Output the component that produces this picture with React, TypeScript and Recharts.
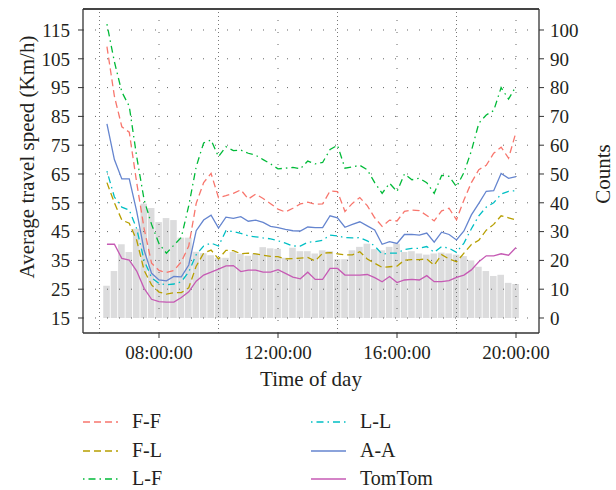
import { ComposedChart, Bar, Line, XAxis, YAxis, ReferenceLine, Label } from 'recharts';

// 15-minute slots
const TIMES = [
  '06:15', '06:30', '06:45',
  '07:00', '07:15', '07:30', '07:45',
  '08:00', '08:15', '08:30', '08:45',
  '09:00', '09:15', '09:30', '09:45',
  '10:00', '10:15', '10:30', '10:45',
  '11:00', '11:15', '11:30', '11:45',
  '12:00', '12:15', '12:30', '12:45',
  '13:00', '13:15', '13:30', '13:45',
  '14:00', '14:15', '14:30', '14:45',
  '15:00', '15:15', '15:30', '15:45',
  '16:00', '16:15', '16:30', '16:45',
  '17:00', '17:15', '17:30', '17:45',
  '18:00', '18:15', '18:30', '18:45',
  '19:00', '19:15', '19:30', '19:45',
  '20:00',
];

const COUNTS = [
  11.2, 16.3, 25.6, 22.9, 31, 39.7, 38.2, 33.3, 34.7, 34,
  27.9, 27.9, 23, 22.5, 21.8, 20.9, 20.9, 22.9, 22.3, 21.6,
  22.4, 24.6, 24.2, 24, 20.9, 24.4, 23.2, 23.2, 22.4, 23.5,
  23.2, 20.4, 20.4, 23.5, 24.7, 25.8, 23.9, 23.5, 24.7, 25.8,
  22.9, 23.2, 22.4, 22, 22.4, 22.7, 22.4, 22, 21.5, 20,
  17.8, 16.3, 14.6, 15, 12.2, 11.8,
];

const F_F = [
  109.2, 92, 81.4, 79.5, 62, 46, 34, 31.5, 30.8, 31.5,
  34.5, 40, 54.8, 62, 65.2, 56.8, 57.5, 58.3, 59.5, 56.3,
  58, 56.5, 54.7, 52.8, 51.8, 53.1, 54.6, 55.2, 54.5, 54.6,
  59.1, 58.9, 52, 54.8, 56.8, 54, 49.8, 46.8, 49, 48.7,
  52, 52.5, 52.3, 50.6, 48.7, 52.2, 53.1, 49.1, 56, 62,
  66.5, 68, 72.2, 74.3, 70.5, 79.5,
];

const F_L = [
  62, 55, 49, 47.9, 42, 31.5, 26.5, 24, 23.3, 23.8,
  23.8, 25.5, 33, 37.5, 38.6, 35.5, 38.5, 38.4, 37.3, 37.5,
  37.3, 36.8, 36.4, 36.3, 35.5, 35.6, 35.8, 36, 34.8, 37.5,
  37.7, 37.3, 36.9, 36.9, 38, 35.5, 34, 32.6, 32.8, 33,
  35.1, 35.3, 35.3, 35.5, 33.3, 37, 35.5, 34.5, 37.5, 40.5,
  42, 45.5, 47.5, 50.5, 49.8, 49,
];

const L_F = [
  117, 104, 93.5, 88.5, 71, 56, 47.5, 40.8, 37.5, 40.3,
  43, 54, 67.5, 75.8, 76.8, 71, 74.5, 73.1, 73.3, 72.2,
  71.5, 70, 68.5, 66.8, 67, 67.3, 66.8, 69.5, 68.5, 69,
  73.5, 75, 67, 67.5, 68, 66.5, 62, 58.3, 61.8, 58.9,
  65, 63, 63.5, 62, 58.3, 64.5, 64.2, 60.6, 65.5, 73,
  82.6, 85.5, 87, 95, 91, 95.5,
];

const L_L = [
  66, 57, 53.5, 52.5, 46, 35, 29, 27, 26.5, 26.8,
  27.6, 31, 37, 40, 41, 40, 45.3, 45, 44.4, 43.5,
  43.2, 42.8, 42.5, 41.8, 41, 40, 40, 41.3, 41.5, 42,
  43.8, 43.5, 42.9, 42.8, 42.9, 41.8, 40, 37.2, 37.5, 37.5,
  38.8, 39.2, 39.2, 39.8, 37.8, 39.8, 39.2, 37.8, 41, 46,
  50.5, 53.5, 55, 58, 59, 59.2,
];

const A_A = [
  82.4, 70, 63.3, 63.3, 52, 38.5, 30.5, 28.2, 27.9, 29.4,
  29.3, 33.4, 45.3, 49, 50.7, 46.2, 50, 49.6, 50.2, 48.6,
  49, 48.2, 46.8, 46.4, 45.8, 45.3, 45.2, 46.6, 46.4, 46.4,
  50.5, 49.8, 46.5, 47.5, 48.4, 47, 45.6, 40.6, 41.5, 40.9,
  44, 44, 43.8, 44.5, 41.3, 44.8, 44, 42.1, 45.2, 50.8,
  54.8, 59, 59.2, 65.2, 63.5, 64.1,
];

const TOMTOM = [
  40.6, 40.6, 35.7, 35.1, 31.3, 25.3, 21.5, 20.7, 20.5, 20.5,
  22.1, 24.1, 27.8, 29.9, 30.9, 32, 33.1, 33.2, 31.1, 31.6,
  31.6, 30.9, 30.9, 31.8, 30.5, 29.2, 28.6, 30.9, 28.4, 28.4,
  32.2, 32.2, 29.9, 29.9, 29.9, 30.1, 29, 27.6, 29.4, 27.3,
  28.2, 28.4, 28.2, 29.7, 27.6, 27.6, 28, 29.1, 29.9, 31.7,
  34.5, 36.6, 36.6, 37.3, 36.8, 39.5,
];

const X_TICKS = [8, 12, 16, 20];
const X_TICK_LABELS = ['08:00:00', '12:00:00', '16:00:00', '20:00:00'];
const X_MINOR = [6, 10, 14, 18];
const SPEED_TICKS = [15, 25, 35, 45, 55, 65, 75, 85, 95, 105, 115];
const COUNT_TICKS = [0, 10, 20, 30, 40, 50, 60, 70, 80, 90, 100];

const SERIES = [
  { key: 'ff', name: 'F-F', values: F_F, color: '#F8766D', dash: '7 4' },
  { key: 'fl', name: 'F-L', values: F_L, color: '#B79F00', dash: '7 4' },
  { key: 'lf', name: 'L-F', values: L_F, color: '#00BA38', dash: '1.5 4 7 4' },
  { key: 'll', name: 'L-L', values: L_L, color: '#00BFC4', dash: '1.5 4 7 4' },
  { key: 'aa', name: 'A-A', values: A_A, color: '#6585CF', dash: undefined },
  { key: 'tt', name: 'TomTom', values: TOMTOM, color: '#C65AB4', dash: undefined },
];

const FONT = '"Liberation Serif", "Times New Roman", serif';
const INK = '#231f20';

const data = TIMES.map((t, i) => {
  const [h, m] = t.split(':').map(Number);
  const row: Record<string, number> = { hour: h + m / 60, counts: COUNTS[i] };
  SERIES.forEach((s) => {
    row[s.key] = s.values[i];
  });
  return row;
});

const tickStyle = { fontSize: 19, fill: INK, fontFamily: FONT };

const LegendBlock = () => {
  const rowY = [422, 451, 479];
  return (
    <>
      {SERIES.map((s, i) => {
        const col = i < 3 ? 0 : 1;
        const top = rowY[i % 3];
        const sx = col === 0 ? 83 : 311;
        const tx = col === 0 ? 132 : 360;
        return (
          <div key={s.key}>
            <svg
              width={36}
              height={4}
              style={{ position: 'absolute', left: sx, top: top - 2 }}
            >
              <line x1={0} y1={2} x2={35} y2={2} stroke={s.color} strokeWidth={1.3} strokeDasharray={s.dash} />
            </svg>
            <div
              style={{
                position: 'absolute',
                left: tx,
                top: top - 13,
                height: 24,
                lineHeight: '24px',
                fontSize: 20,
                fontFamily: FONT,
                color: INK,
                whiteSpace: 'nowrap',
              }}
            >
              {s.name}
            </div>
          </div>
        );
      })}
    </>
  );
};

export default function App() {
  return (
    <div style={{ position: 'absolute', left: 0, top: 0, width: 616, height: 490, background: '#fff' }}>
      <ComposedChart
        width={616}
        height={400}
        data={data}
        margin={{ top: 9, right: 0, bottom: 7, left: 0 }}
      >
        <XAxis
          dataKey="hour"
          type="number"
          domain={[5.445, 20.773]}
          allowDataOverflow
          ticks={X_TICKS}
          tickFormatter={(v: number) => X_TICK_LABELS[X_TICKS.indexOf(v)]}
          height={60}
          tick={tickStyle}
          tickSize={5}
          tickMargin={8}
          axisLine={{ stroke: '#333', strokeWidth: 1.3 }}
          tickLine={{ stroke: '#333' }}
        >
          <Label
            content={() => (
              <text x={311} y={386} textAnchor="middle" fontSize={21} fontFamily={FONT} fill={INK}>
                Time of day
              </text>
            )}
          />
        </XAxis>
        <YAxis
          yAxisId="left"
          domain={[9.79, 122.29]}
          allowDataOverflow
          ticks={SPEED_TICKS}
          width={83}
          tick={tickStyle}
          tickSize={5}
          tickMargin={8}
          axisLine={{ stroke: '#333', strokeWidth: 1.3 }}
          tickLine={{ stroke: '#333' }}
        >
          <Label
            content={() => (
              <text
                x={34}
                y={157}
                textAnchor="middle"
                fontSize={21}
                fontFamily={FONT}
                fill={INK}
                transform="rotate(-90 34 157)"
              >
                Average travel speed (Km/h)
              </text>
            )}
          />
        </YAxis>
        <YAxis
          yAxisId="right"
          orientation="right"
          domain={[-5.21, 107.29]}
          allowDataOverflow
          ticks={COUNT_TICKS}
          width={77}
          tick={tickStyle}
          tickSize={5}
          tickMargin={6}
          axisLine={{ stroke: '#333', strokeWidth: 1.3 }}
          tickLine={{ stroke: '#333' }}
        >
          <Label
            content={() => (
              <text
                x={610}
                y={174}
                textAnchor="middle"
                fontSize={21}
                fontFamily={FONT}
                fill={INK}
                transform="rotate(-90 610 174)"
              >
                Counts
              </text>
            )}
          />
        </YAxis>

        {SPEED_TICKS.map((v) => (
          <ReferenceLine key={`h${v}`} yAxisId="left" y={v} stroke="#666" strokeDasharray="1 11" />
        ))}
        {X_MINOR.map((v) => (
          <ReferenceLine key={`vm${v}`} yAxisId="left" x={v} stroke="#777" strokeDasharray="1 3" />
        ))}
        {X_TICKS.map((v) => (
          <ReferenceLine key={`vM${v}`} yAxisId="left" x={v} stroke="#666" strokeDasharray="1 11" />
        ))}
        <ReferenceLine yAxisId="left" y={122.29} stroke="#444" strokeWidth={2} />

        <Bar yAxisId="right" dataKey="counts" fill="#dcdcdd" barSize={6.6} isAnimationActive={false} />

        {SERIES.map((s) => (
          <Line
            key={s.key}
            yAxisId="left"
            type="linear"
            dataKey={s.key}
            name={s.name}
            stroke={s.color}
            strokeWidth={1.3}
            strokeDasharray={s.dash}
            dot={false}
            activeDot={false}
            isAnimationActive={false}
          />
        ))}
      </ComposedChart>
      <LegendBlock />
    </div>
  );
}
